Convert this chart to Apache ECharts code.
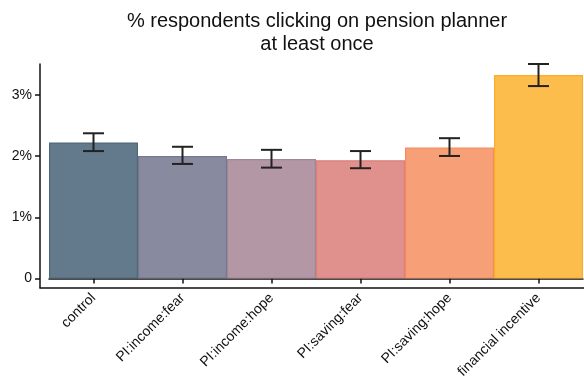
<!DOCTYPE html>
<html>
<head>
<meta charset="utf-8">
<script src="https://cdn.jsdelivr.net/npm/echarts@6/dist/echarts.min.js"></script>
<style>
  html, body { margin: 0; padding: 0; background: #fff; }
  #chart { width: 584px; height: 381px; }
</style>
</head>
<body>
<div id="chart"></div>
<script>
// Treatment groups and share of respondents (%) who clicked at least once
const categories = ['control', 'PI:income:fear', 'PI:income:hope', 'PI:saving:fear', 'PI:saving:hope', 'financial incentive'];
const values = [2.22, 2.00, 1.95, 1.93, 2.14, 3.32];
const errLow = [2.08, 1.87, 1.81, 1.80, 2.00, 3.14];
const errHigh = [2.37, 2.15, 2.10, 2.08, 2.29, 3.50];
const yTicks = [0, 1, 2, 3];

const fills = ['#627a8c', '#888a9f', '#b497a5', '#e0918d', '#f7a078', '#fdbd4d'];
const borders = ['#51687a', '#77798f', '#a38694', '#d9807b', '#f48c5f', '#f8ae2c'];

const font = 'Liberation Sans, Arial, Helvetica, sans-serif';
const chart = echarts.init(document.getElementById('chart'), null, { renderer: 'canvas' });

const errData = categories.map((c, i) => [i, errLow[i], errHigh[i]]);

chart.setOption({
  animation: false,
  title: {
    text: '% respondents clicking on pension planner\nat least once',
    left: 312,
    top: 5,
    textAlign: 'center',
    textStyle: { fontFamily: font, fontSize: 20, fontWeight: 'normal', color: '#111', lineHeight: 23 }
  },
  grid: [
    { left: 49, right: 1, top: 64, bottom: 93 },
    { left: 40, right: 0, top: 64, bottom: 93 }
  ],
  xAxis: [
    {
      type: 'category',
      gridIndex: 0,
      data: categories,
      axisLine: { show: true, lineStyle: { color: '#111', width: 1.5 } },
      axisTick: { show: true, alignWithLabel: true, length: 5, lineStyle: { color: '#111', width: 1.5 } },
      axisLabel: {
        rotate: 45, interval: 0, margin: 8,
        fontFamily: font, fontSize: 14, color: '#111'
      }
    },
    {
      type: 'value',
      gridIndex: 1,
      min: 0, max: 1,
      axisLine: { show: true, lineStyle: { color: '#111', width: 1.5 } },
      axisTick: { show: false },
      axisLabel: { show: false },
      splitLine: { show: false }
    }
  ],
  yAxis: [
    {
      type: 'value',
      gridIndex: 0,
      min: -0.15,
      max: 3.5,
      offset: 9,
      axisLine: { show: true, lineStyle: { color: '#111', width: 1.5 } },
      axisTick: { show: true, length: 5, customValues: yTicks, lineStyle: { color: '#111', width: 1.5 } },
      axisLabel: {
        customValues: yTicks,
        margin: 8,
        fontFamily: font, fontSize: 14, color: '#111',
        formatter: v => (v === 0 ? '0' : v + '%')
      },
      splitLine: { show: false }
    },
    {
      type: 'value',
      gridIndex: 1,
      show: false,
      min: 0, max: 1
    }
  ],
  series: [
    {
      type: 'bar',
      xAxisIndex: 0,
      yAxisIndex: 0,
      barCategoryGap: 0,
      data: values.map((v, i) => ({
        value: v,
        itemStyle: { color: fills[i], borderColor: borders[i], borderWidth: 1.2 }
      }))
    },
    {
      type: 'custom',
      xAxisIndex: 0,
      yAxisIndex: 0,
      data: errData,
      z: 5,
      renderItem: (params, api) => {
        const x = api.value(0);
        const lo = api.coord([x, api.value(1)]);
        const hi = api.coord([x, api.value(2)]);
        const half = 10.5;
        const style = { stroke: '#222', lineWidth: 2 };
        return {
          type: 'group',
          children: [
            { type: 'line', shape: { x1: hi[0], y1: hi[1], x2: lo[0], y2: lo[1] }, style },
            { type: 'line', shape: { x1: hi[0] - half, y1: hi[1], x2: hi[0] + half, y2: hi[1] }, style },
            { type: 'line', shape: { x1: lo[0] - half, y1: lo[1], x2: lo[0] + half, y2: lo[1] }, style }
          ]
        };
      }
    }
  ]
});
</script>
</body>
</html>
